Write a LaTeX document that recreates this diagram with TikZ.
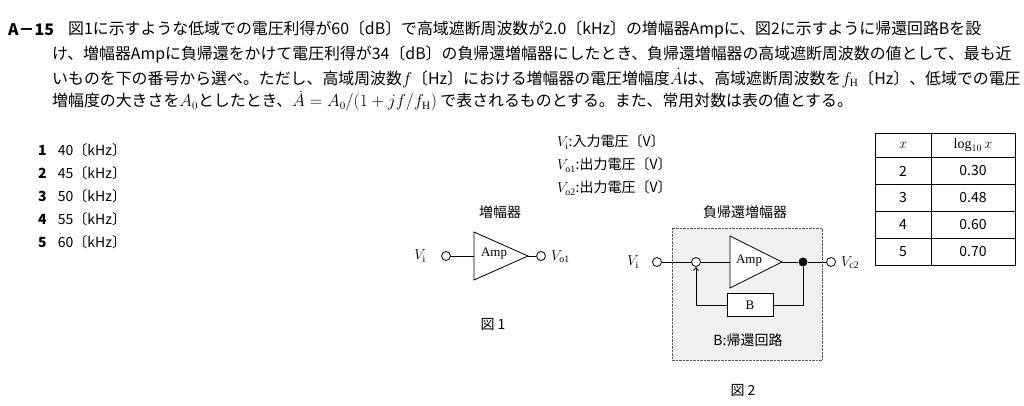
\documentclass[tikz,border=0pt]{standalone}
\usepackage{fontspec}
\setmainfont{Liberation Serif}
\newfontfamily\jp{Noto Sans CJK JP}
\usetikzlibrary{arrows.meta}
\begin{document}
\begin{tikzpicture}[x=1pt,y=-1pt,
  txt/.style={inner sep=0pt,anchor=west,font=\jp\fontsize{15.9}{17}\selectfont},
  ch/.style={inner sep=0pt,anchor=west,font=\jp\fontsize{14}{16}\selectfont},
  term/.style={circle,draw,line width=0.8pt,minimum size=9pt,inner sep=0pt},
  lbl/.style={inner sep=0pt,font=\jp\fontsize{14}{16}\selectfont},
  wire/.style={line width=0.8pt}]
\useasboundingbox (0,0) rectangle (1024,406);
\fill[white] (0,0) rectangle (1024,406);
% question text
\node[txt] (q0) at (8,30) {\textbf{A－15}};
\node[txt] (q1) at (68,30) {図1に示すような低域での電圧利得が60〔dB〕で高域遮断周波数が2.0〔kHz〕の増幅器Ampに、図2に示すように帰還回路Bを設};
\node[txt] (q2) at (52,55) {け、増幅器Ampに負帰還をかけて電圧利得が34〔dB〕の負帰還増幅器にしたとき、負帰還増幅器の高域遮断周波数の値として、最も近};
\node[txt] (q3) at (52,78) {いものを下の番号から選べ。ただし、高域周波数$f$〔Hz〕における増幅器の電圧増幅度$\dot{A}$は、高域遮断周波数を$f_{\mathrm{H}}$〔Hz〕、低域での電圧};
\node[txt] (q4) at (52,101) {増幅度の大きさを$A_0$としたとき、$\dot{A}=A_0/(1+jf/f_{\mathrm{H}})$ で表されるものとする。また、常用対数は表の値とする。};
% choices
\foreach \n/\v [count=\i] in {1/40,2/45,3/50,4/55,5/60}
  \node[ch] (c\i) at (38,127+23*\i) {\textbf{\n}\hspace{0.8em}\v〔kHz〕};
% legend
\node[ch] (l1) at (557,142) {$V_{\mathrm{i}}$:入力電圧〔V〕};
\node[ch] (l2) at (557,165) {$V_{\mathrm{o1}}$:出力電圧〔V〕};
\node[ch] (l3) at (557,188) {$V_{\mathrm{o2}}$:出力電圧〔V〕};
% table
\draw[line width=0.6pt] (875,133) rectangle (1015,265);
\foreach \y in {157,184,211,238} \draw[line width=0.6pt] (875,\y) -- (1015,\y);
\draw[line width=0.6pt] (931,133) -- (931,265);
\node[lbl] (th1) at (903,145) {$x$};
\node[lbl] (th2) at (973,145) {$\log_{10}x$};
\foreach \a/\b [count=\i] in {2/0.30,3/0.48,4/0.60,5/0.70}{
  \node[lbl] (ta\i) at (903,144+27*\i) {\a};
  \node[lbl] (tb\i) at (973,144+27*\i) {\b};}
% figure 1
\node[lbl] (t1) at (500,212) {増幅器};
\node[lbl] (vi1) at (420,256) {$V_{\mathrm{i}}$};
\node[term] (in1) at (446,256) {};
\coordinate (a1l) at (474,256);
\draw[wire] (474,232) -- (528,256) -- (474,280) -- cycle;
\coordinate (a1r) at (528,256);
\node[lbl,font=\fontsize{13}{15}\selectfont] (amp1) at (494,254) {Amp};
\node[term] (out1) at (541,256) {};
\node[lbl,anchor=west] (vo1) at (551,257) {$V_{\mathrm{o1}}$};
\draw[wire] (in1) -- (a1l); \draw[wire] (a1r) -- (out1);
\node[lbl] (f1) at (493,324) {図 1};
% figure 2
\node[lbl] (t2) at (745,212) {負帰還増幅器};
\fill[gray!12] (672,228) rectangle (822,360);
\draw[densely dotted,gray!70!black] (672,228) rectangle (822,360);
\node[lbl] (vi2) at (633,262) {$V_{\mathrm{i}}$};
\node[term] (in2) at (657,262) {};
\node[term,fill=white] (sum) at (696,262) {};
\draw[wire,fill=white] (730,236) -- (782,262) -- (730,288) -- cycle;
\coordinate (a2l) at (730,262);
\coordinate (a2r) at (782,262);
\node[lbl,font=\fontsize{13}{15}\selectfont] (amp2) at (749,261) {Amp};
\node[circle,fill,inner sep=0pt,minimum size=9pt] (dot) at (803,262) {};
\node[term,fill=white] (out2) at (831,262) {};
\node[lbl,anchor=west] (vo2) at (841,263) {$V_{\mathrm{c2}}$};
\node[draw,wire,fill=white,minimum width=46pt,minimum height=23pt,inner sep=0pt,font=\fontsize{13}{15}\selectfont] (B) at (750,305) {B};
\draw[wire] (in2) -- (sum); \draw[wire] (sum) -- (a2l);
\draw[wire] (a2r) -- (dot); \draw[wire] (dot) -- (out2);
\draw[wire] (dot) |- (B.east);
\draw[wire,-{Straight Barb[length=3pt,width=5pt]}] (B.west) -| (sum.south);
\node[lbl] (bl) at (748,340) {B:帰還回路};
\node[lbl] (f2) at (743,390) {図 2};
\end{tikzpicture}
\end{document}
